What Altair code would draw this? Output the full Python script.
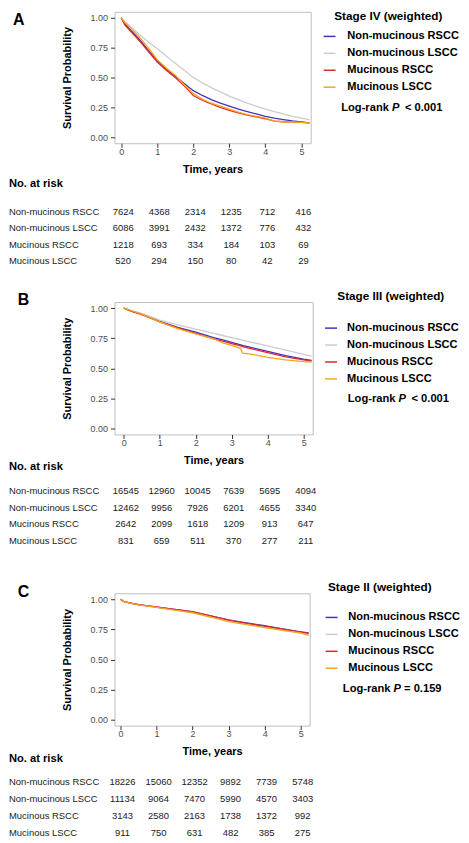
import altair as alt
import pandas as pd

groups = ["Non-mucinous RSCC", "Non-mucinous LSCC", "Mucinous RSCC", "Mucinous LSCC"]
colors = ["#4433BB", "#CCCCCC", "#E0282E", "#F2A71B"]
risk_times = [0, 1, 2, 3, 4, 5]

# ---- Panel A: Stage IV ----
a_time = [0, 0.1, 0.25, 0.5, 0.75, 1.0, 1.25, 1.5, 1.75, 2.0, 2.25, 2.5, 2.75,
          3.0, 3.25, 3.5, 3.75, 4.0, 4.25, 4.5, 4.75, 5.0, 5.22]
a_nm_rscc = [1.0, 0.95, 0.90, 0.82, 0.73, 0.64, 0.57, 0.51, 0.45, 0.39, 0.35, 0.315, 0.285,
             0.26, 0.235, 0.215, 0.195, 0.175, 0.16, 0.148, 0.137, 0.128, 0.12]
a_nm_lscc = [1.0, 0.97, 0.93, 0.86, 0.80, 0.74, 0.68, 0.62, 0.56, 0.50, 0.455, 0.415, 0.38,
             0.345, 0.315, 0.285, 0.26, 0.235, 0.215, 0.195, 0.175, 0.16, 0.148]
a_m_rscc = [1.0, 0.94, 0.89, 0.81, 0.72, 0.63, 0.56, 0.50, 0.43, 0.35, 0.31, 0.28, 0.25,
            0.225, 0.205, 0.185, 0.17, 0.155, 0.135, 0.13, 0.128, 0.125, 0.12]
a_m_lscc = [1.0, 0.96, 0.92, 0.84, 0.75, 0.65, 0.58, 0.52, 0.44, 0.365, 0.32, 0.285, 0.26,
            0.235, 0.21, 0.19, 0.175, 0.16, 0.135, 0.13, 0.128, 0.125, 0.12]
a_risk_nm_rscc = [7624, 4368, 2314, 1235, 712, 416]
a_risk_nm_lscc = [6086, 3991, 2432, 1372, 776, 432]
a_risk_m_rscc = [1218, 693, 334, 184, 103, 69]
a_risk_m_lscc = [520, 294, 150, 80, 42, 29]

# ---- Panel B: Stage III ----
b_time = [0, 0.25, 0.5, 1.0, 1.5, 2.0, 2.5, 2.75, 3.0, 3.25, 3.3, 3.5, 4.0, 4.5, 5.0, 5.22]
b_nm_rscc = [1.0, 0.97, 0.95, 0.89, 0.84, 0.80, 0.755, 0.735, 0.715, 0.695, 0.69, 0.675, 0.64, 0.605, 0.575, 0.565]
b_nm_lscc = [1.0, 0.975, 0.955, 0.90, 0.86, 0.825, 0.79, 0.772, 0.755, 0.737, 0.733, 0.72, 0.685, 0.65, 0.615, 0.60]
b_m_rscc = [1.0, 0.97, 0.945, 0.885, 0.835, 0.79, 0.745, 0.725, 0.705, 0.685, 0.68, 0.665, 0.63, 0.595, 0.57, 0.56]
b_m_lscc = [1.0, 0.975, 0.95, 0.885, 0.83, 0.785, 0.745, 0.71, 0.69, 0.665, 0.625, 0.62, 0.59, 0.57, 0.555, 0.55]
b_risk_nm_rscc = [16545, 12960, 10045, 7639, 5695, 4094]
b_risk_nm_lscc = [12462, 9956, 7926, 6201, 4655, 3340]
b_risk_m_rscc = [2642, 2099, 1618, 1209, 913, 647]
b_risk_m_lscc = [831, 659, 511, 370, 277, 211]

# ---- Panel C: Stage II ----
c_time = [0, 0.05, 0.1, 0.25, 0.5, 1.0, 1.5, 2.0, 2.5, 3.0, 3.5, 4.0, 4.5, 5.0, 5.22]
c_nm_rscc = [1.0, 0.99, 0.98, 0.97, 0.955, 0.935, 0.915, 0.895, 0.862, 0.828, 0.803, 0.78, 0.755, 0.73, 0.72]
c_nm_lscc = [1.0, 0.99, 0.98, 0.97, 0.955, 0.933, 0.913, 0.892, 0.858, 0.822, 0.795, 0.77, 0.745, 0.718, 0.705]
c_m_rscc = [1.0, 0.99, 0.98, 0.97, 0.956, 0.936, 0.916, 0.897, 0.862, 0.826, 0.80, 0.777, 0.752, 0.727, 0.716]
c_m_lscc = [1.0, 0.995, 0.98, 0.968, 0.953, 0.932, 0.91, 0.888, 0.852, 0.815, 0.79, 0.765, 0.742, 0.72, 0.70]
c_risk_nm_rscc = [18226, 15060, 12352, 9892, 7739, 5748]
c_risk_nm_lscc = [11134, 9064, 7470, 5990, 4570, 3403]
c_risk_m_rscc = [3143, 2580, 2163, 1738, 1372, 992]
c_risk_m_lscc = [911, 750, 631, 482, 385, 275]

FONT = "Liberation Sans"
one = pd.DataFrame({"k": [0]})


def note(text, x, y, size=11.2, weight="bold", style="normal", align="left"):
    return alt.Chart(one).mark_text(
        text=text, font=FONT, fontSize=size, fontWeight=weight, fontStyle=style,
        align=align, baseline="middle", color="black"
    ).encode(x=alt.value(x), y=alt.value(y))


def panel(letter, legend_title, pv_text, times, series, risk, cfg):
    rows = []
    for g, vals in zip(groups, series):
        for t, s in zip(times, vals):
            rows.append({"time": t, "surv": s, "group": g})
    df = pd.DataFrame(rows)

    x_axis = alt.Axis(values=risk_times, format="d", labelPadding=0, titlePadding=7,
                      labelOverlap=False, labelFlush=False)
    x_scale = alt.Scale(domain=cfg["xdom"], nice=False, zero=False)

    curves = alt.Chart(df).mark_line(strokeWidth=1.3).encode(
        x=alt.X("time:Q", title="Time, years", scale=x_scale, axis=x_axis),
        y=alt.Y("surv:Q", title="Survival Probability",
                scale=alt.Scale(domain=[-0.05, 1.05], nice=False, zero=False),
                axis=alt.Axis(values=[0, 0.25, 0.5, 0.75, 1.0], format=".2f",
                              labelPadding=3, titlePadding=18)),
        color=alt.Color("group:N", scale=alt.Scale(domain=groups, range=colors),
                        legend=alt.Legend(
                            title=None, orient="none",
                            legendX=cfg["legX"], legendY=cfg["legY"],
                            labelFont=FONT, labelFontSize=11.1, labelFontWeight="bold",
                            labelColor="black", labelOffset=cfg["lo"],
                            symbolType="stroke", symbolStrokeWidth=1.5, symbolSize=144,
                            rowPadding=4, padding=0)),
    )

    trows = []
    for g, vals in zip(groups, risk):
        for t, n in zip(risk_times, vals):
            trows.append({"time": t, "n": n, "group": g})
    tdf = pd.DataFrame(trows)
    yrow = alt.Y("group:N", scale=alt.Scale(type="point", domain=groups,
                                             range=cfg["rows"], padding=0), axis=None)
    nums = alt.Chart(tdf).mark_text(font=FONT, fontSize=9.5, color="#1A1A1A",
                                    dx=2, baseline="middle").encode(
        x=alt.X("time:Q", title="Time, years", scale=x_scale, axis=x_axis),
        y=yrow,
        text=alt.Text("n:Q", format="d"),
    )
    labels = alt.Chart(pd.DataFrame({"group": groups})).mark_text(
        font=FONT, fontSize=9.5, color="#1A1A1A", align="left", baseline="middle"
    ).encode(x=alt.value(-106), y=yrow, text="group:N")

    lx, ly = cfg["lr"]
    tx, ty = cfg["title"]
    layers = [
        curves, nums, labels,
        note(legend_title, tx, ty, size=11.8, align="center"),
        note("No. at risk", -106, cfg["nar"], size=11.2),
        note(letter, cfg["letter"][0], cfg["letter"][1], size=16),
        note("Log-rank", lx, ly),
        note("P", lx + 51, ly, style="italic"),
        note(pv_text, lx + cfg["pvdx"], ly),
    ]
    return alt.layer(*layers).resolve_scale(y="independent").properties(
        width=cfg["w"], height=cfg["h"])


pA = panel("A", "Stage IV (weighted)", "< 0.001", a_time,
           [a_nm_rscc, a_nm_lscc, a_m_rscc, a_m_lscc],
           [a_risk_nm_rscc, a_risk_nm_lscc, a_risk_m_rscc, a_risk_m_lscc],
           dict(xdom=[-0.185, 5.257], w=197, h=132, legX=209, legY=17.7, lo=10.7,
                title=(275, 4), rows=[200.7, 250.3], nar=173, letter=(-102, 8),
                lr=(227.7, 97), pvdx=64))
pB = panel("B", "Stage III (weighted)", "< 0.001", b_time,
           [b_nm_rscc, b_nm_lscc, b_m_rscc, b_m_lscc],
           [b_risk_nm_rscc, b_risk_nm_lscc, b_risk_m_rscc, b_risk_m_lscc],
           dict(xdom=[-0.257, 5.25], w=199, h=133, legX=210.5, legY=19.2, lo=9,
                title=(277.5, -5.8), rows=[190.2, 239.8], nar=166.2, letter=(-97.3, -2.5),
                lr=(234.3, 97.5), pvdx=64))
pC = panel("C", "Stage II (weighted)", "= 0.159", c_time,
           [c_nm_rscc, c_nm_lscc, c_m_rscc, c_m_lscc],
           [c_risk_nm_rscc, c_risk_nm_lscc, c_risk_m_rscc, c_risk_m_lscc],
           dict(xdom=[-0.166, 5.25], w=196, h=133, legX=211, legY=17.3, lo=9.7,
                title=(266.5, -6), rows=[190, 241], nar=166, letter=(-97.3, -1),
                lr=(229.3, 96.5), pvdx=61.5))

chart = alt.vconcat(pA, pB, pC, spacing=159.5, bounds="flush").resolve_scale(
    color="independent").resolve_legend(color="independent")

chart = chart.properties(padding=0).configure(font=FONT).configure_view(
    stroke="#BEBEBE", strokeWidth=1
).configure_axis(
    labelFont=FONT, labelFontSize=9, labelColor="#4D4D4D",
    tickColor="#333333", tickSize=4, tickWidth=1,
    domain=False, grid=False,
    titleFont=FONT, titleFontSize=11, titleFontWeight="bold", titleColor="black",
)

chart.save("out.html", embed_options={"renderer": "svg", "actions": False})
